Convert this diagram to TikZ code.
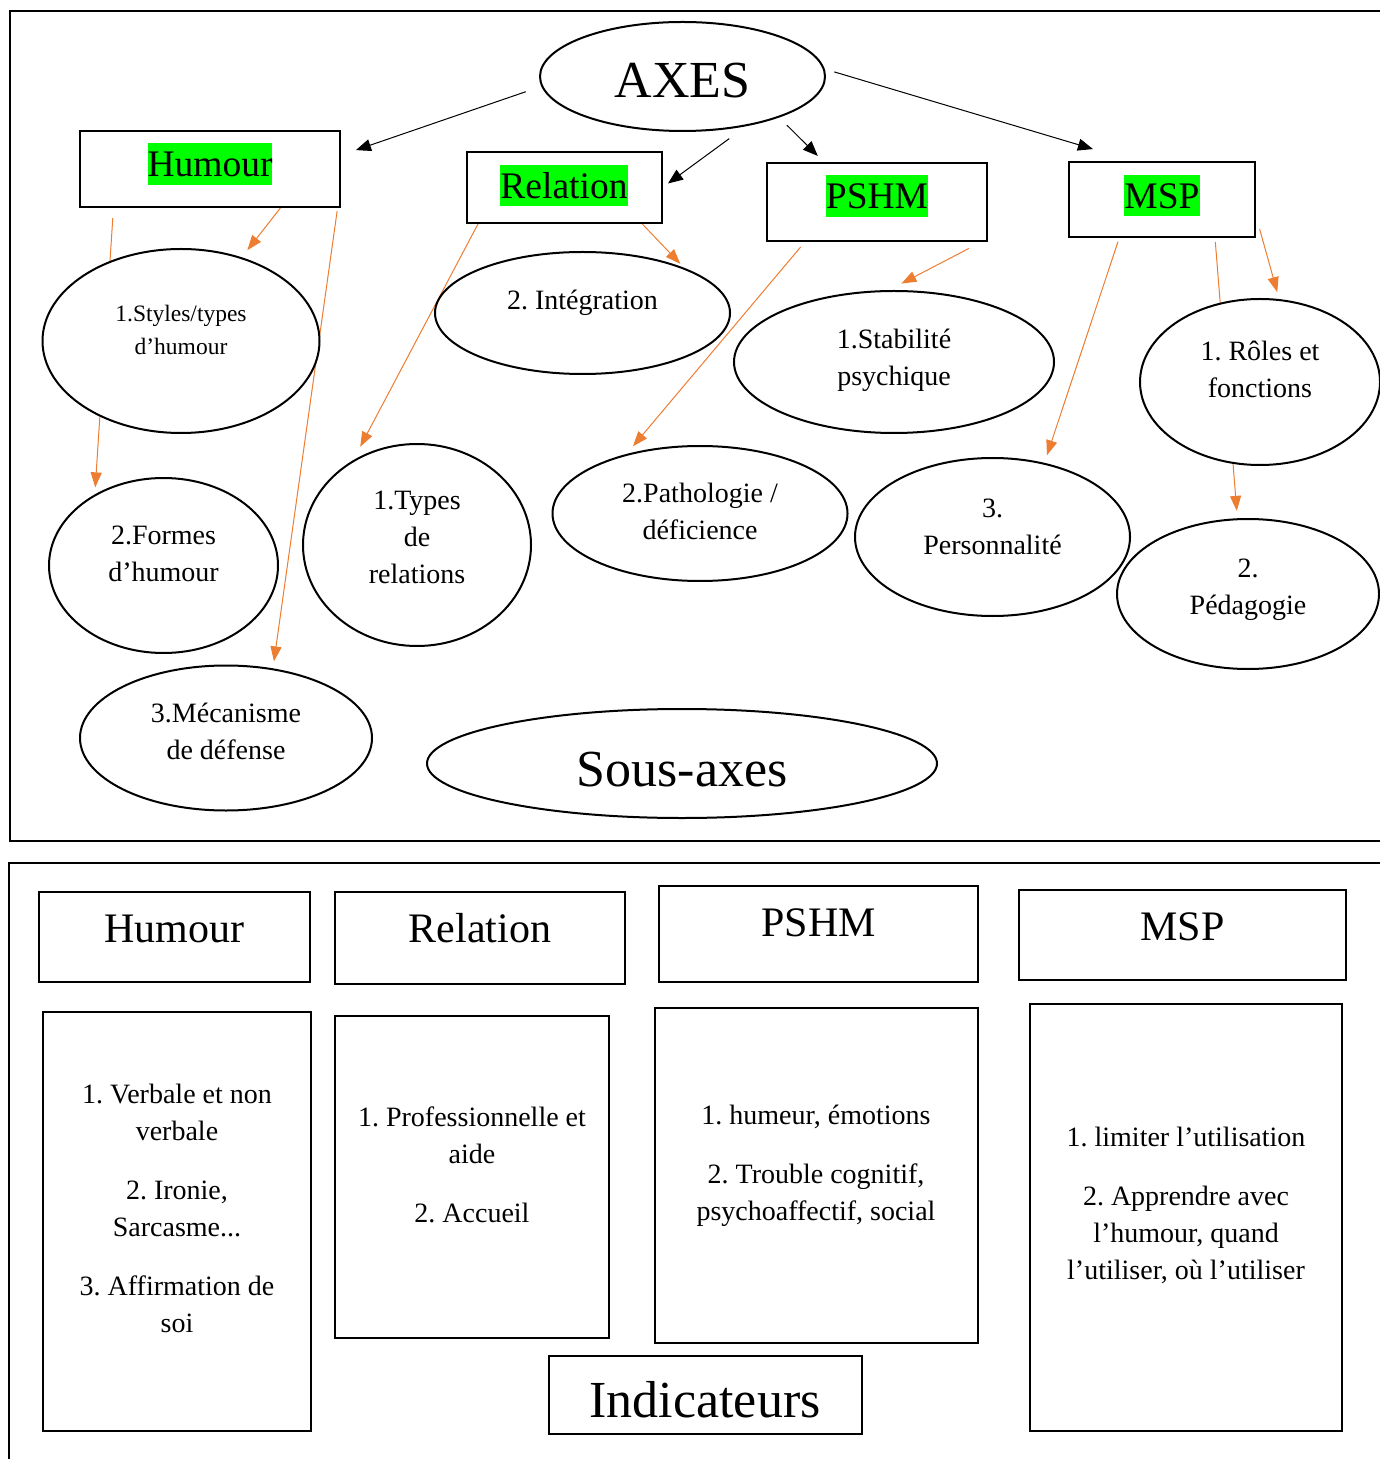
\documentclass[tikz,border=0pt]{standalone}
\usepackage{fontspec}
\setmainfont{Liberation Serif}
\usetikzlibrary{arrows.meta,shapes.geometric,backgrounds}
\definecolor{vert}{HTML}{00FF00}
\definecolor{orangeo}{HTML}{ED7D31}
\setlength{\fboxsep}{0pt}
\frenchspacing
\def\relever#1#2{\raisebox{#1}[\height][\depth]{\begin{tabular}{@{}c@{}}#2\end{tabular}}}
\def\surligne#1#2{\raisebox{#1}[\height][\depth]{\colorbox{vert}{\vrule height .891em depth .216em width 0pt#2}}}

\begin{document}
\begin{tikzpicture}[x=0.5pt, y=-0.5pt,
		boite/.style={draw, line width=1pt, fill=white, inner sep=0pt},
		bulle/.style={ellipse, draw, line width=1pt, fill=white, inner sep=0pt},
		menu/.style={font=\fontsize{11.75}{16.5}\selectfont},
		petit/.style={font=\fontsize{14}{18.5}\selectfont},
		titre/.style={font=\fontsize{18.75}{22}\selectfont},
		entete/.style={font=\fontsize{21}{25}\selectfont},
		grand/.style={font=\fontsize{26}{31.5}\selectfont},
		fleche/.style={line width=0.5pt, -{Triangle[length=7.5pt,width=6pt]}},
		lien/.style={color=orangeo, line width=0.5pt, -{Triangle[length=7.5pt,width=5.5pt]}}]
			%%%%% START %%%%%
			\useasboundingbox (0,0) rectangle (1379,1459);
			
			\draw[line width=1pt] (1385,11.5) -- (10,11.5) -- (10,840.5) -- (1385,840.5);
			\draw[line width=1pt] (1385,862.5) -- (9,862.5) -- (9,1465);
			
			%%%%% AXES %%%%%
			\node[bulle, grand, minimum width=142.5pt, minimum height=54.5pt] (axes) at (682.5,76.5) {\relever{-4.3pt}{AXES}};
			
			\node[boite, titre, minimum width=130pt, minimum height=38pt] (humour) at (210,169) {\surligne{2.5pt}{Humour}};
			\node[boite, titre, minimum width=97.5pt, minimum height=35.5pt] (relation) at (564,187.5) {\surligne{1pt}{Relation}};
			\node[boite, titre, minimum width=110pt, minimum height=39pt] (pshm) at (877,202) {\surligne{3pt}{PSHM}};
			\node[boite, titre, minimum width=93pt, minimum height=37.5pt] (msp) at (1162,199.5) {\surligne{2pt}{MSP}};
			
			%%%%% SOUS-AXES %%%%%
			\node[bulle, menu, minimum width=138.5pt, minimum height=92pt] (styles) at (181,341) {\relever{5pt}{1.Styles/types\\d’humour}};
			\node[bulle, petit, minimum width=114.5pt, minimum height=87.5pt] (formes) at (163.5,565.5) {\relever{5pt}{2.Formes\\d’humour}};
			\node[bulle, petit, minimum width=146pt, minimum height=72.5pt] (mecanisme) at (226,738) {\relever{2pt}{3.Mécanisme\\de défense}};
			
			\node[bulle, petit, minimum width=147.5pt, minimum height=61pt] (integration) at (582.5,313) {\relever{5.5pt}{2. Intégration}};
			\node[bulle, petit, minimum width=114pt, minimum height=101pt] (types) at (417,545) {\relever{3pt}{1.Types\\de\\relations}};
			
			\node[bulle, petit, minimum width=160pt, minimum height=71pt] (stabilite) at (894,362) {\relever{1.4pt}{1.Stabilité\\psychique}};
			\node[bulle, petit, minimum width=147.5pt, minimum height=67.5pt] (pathologie) at (700,513.5) {\relever{0pt}{2.Pathologie /\\déficience}};
			
			\node[bulle, petit, minimum width=120pt, minimum height=83pt] (roles) at (1260,382) {\relever{5pt}{1. Rôles et\\fonctions}};
			\node[bulle, petit, minimum width=131pt, minimum height=75pt] (pedagogie) at (1248,594) {\relever{2.8pt}{2.\\Pédagogie}};
			\node[bulle, petit, minimum width=137.5pt, minimum height=79pt] (personnalite) at (992.5,537) {\relever{4.3pt}{3.\\Personnalité}};
			
			\node[bulle, grand, minimum width=255pt, minimum height=54.5pt] (sousaxes) at (682,763.5) {\relever{-5.3pt}{Sous-axes}};
			
			\begin{scope}[on background layer]
				\draw[fleche, shorten <=8.2pt, shorten >=7.9pt] (axes.184.2) -- (humour.6.6);
				\draw[fleche, shorten <=10.5pt, shorten >=3.4pt] (axes.-38.1) -- (relation.0.3);
				\draw[fleche, shorten <=5.5pt, shorten >=4.3pt] (axes.-23.3) -- (pshm.143.6);
				\draw[fleche, shorten <=5pt, shorten >=20.9pt] (axes.3) -- (msp.127.7);
				
				\draw[lien, shorten >=4.5pt] (humour.-29.9) -- (styles.54.5);
				\draw[lien, shorten <=5pt, shorten >=3.5pt] (humour.202.4) -- (formes.134);
				\draw[lien, shorten <=1.5pt, shorten >=3.5pt] (humour.-17) -- (mecanisme.56.8);
				\draw[lien, shorten >=2.7pt] (relation.-25) -- (integration.24.5);
				\draw[lien, shorten >=7.6pt] (relation.203.2) -- (types.127.6);
				\draw[lien, shorten <=7pt, shorten >=7pt] (pshm.-21.9) -- (stabilite.94.8);
				\draw[lien, shorten <=3.3pt, shorten >=5pt] (pshm.209.2) -- (pathologie.141.4);
				\draw[lien, shorten <=2pt, shorten >=4pt] (msp.222) -- (personnalite.55.7);
				\draw[lien, shorten <=2pt, shorten >=3.7pt] (msp.-36) -- (pedagogie.98.3);
				\draw[lien, shorten <=6.7pt, shorten >=3.6pt] (msp.-10.7) -- (roles.77.7);
			\end{scope}
			
			%%%%% INDICATEURS %%%%%
			\node[boite, entete, minimum width=135.5pt, minimum height=45pt] (bhumour) at (174,937) {\relever{2.5pt}{Humour}};
			\node[boite, entete, minimum width=145pt, minimum height=46pt] (brelation) at (480,938) {\relever{3pt}{Relation}};
			\node[boite, entete, minimum width=159.5pt, minimum height=48pt] (bpshm) at (818.5,934) {\relever{4pt}{PSHM}};
			\node[boite, entete, minimum width=163.5pt, minimum height=45pt] (bmsp) at (1182.5,935) {\relever{2.5pt}{MSP}};
			
			\node[boite, petit, minimum width=134pt, minimum height=209.5pt] (lhumour) at (177,1221) {\relever{5pt}{1. Verbale et non\\verbale\\[11pt]2. Ironie,\\Sarcasme...\\[11pt]3. Affirmation de\\soi}};
			\node[boite, petit, minimum width=137pt, minimum height=161pt] (lrelation) at (472,1177) {\relever{5pt}{1. Professionnelle et\\aide\\[11pt]2. Accueil}};
			\node[boite, petit, minimum width=161.5pt, minimum height=167.5pt] (lpshm) at (816,1175) {\relever{5pt}{1. humeur, émotions\\[11pt]2. Trouble cognitif,\\psychoaffectif, social}};
			\node[boite, petit, minimum width=156pt, minimum height=213.5pt] (lmsp) at (1186,1217) {\relever{5.5pt}{1. limiter l’utilisation\\[11pt]2. Apprendre avec\\l’humour, quand\\l’utiliser, où l’utiliser}};
			
			\node[boite, grand, minimum width=156.5pt, minimum height=39pt] (indicateurs) at (705,1395) {\relever{-4.7pt}{Indicateurs}};
			%%%%% END %%%%%
		\end{tikzpicture}
\end{document}
